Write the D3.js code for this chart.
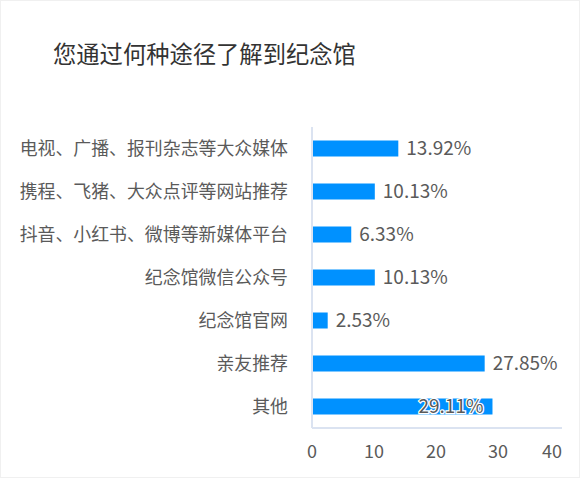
<!DOCTYPE html>
<html>
<head>
<meta charset="utf-8">
<script src="https://cdn.jsdelivr.net/npm/d3@7"></script>
<style>
  html, body { margin: 0; padding: 0; background: #fff; }
  svg { display: block; font-family: "Noto Sans CJK SC", "Microsoft YaHei", sans-serif; }
</style>
</head>
<body>
<div id="chart"></div>
<script>
var title = "您通过何种途径了解到纪念馆";

var categories = [
    "电视、广播、报刊杂志等大众媒体",
    "携程、飞猪、大众点评等网站推荐",
    "抖音、小红书、微博等新媒体平台",
    "纪念馆微信公众号",
    "纪念馆官网",
    "亲友推荐",
    "其他"
];

var percents = [13.92, 10.13, 6.33, 10.13, 2.53, 27.85, 29.11];

var xTicks = [0, 10, 20, 30, 40];

var width = 580,
    height = 479;

var svg = d3.select("#chart")
    .append("svg")
    .attr("width", width)
    .attr("height", height);

// faint frame round the card
svg.append("rect")
    .attr("x", 0.5)
    .attr("y", 0.5)
    .attr("width", width - 1)
    .attr("height", height - 2)
    .attr("fill", "none")
    .attr("stroke", "#f0f0f0");

svg.append("text")
    .attr("x", 53)
    .attr("y", 63)
    .attr("fill", "#333")
    .style("font-size", "23.3px")
    .text(title);

var x = d3.scaleLinear()
    .domain([0, 40])
    .range([312, 560]);

var y = d3.scaleBand()
    .domain(categories)
    .range([127, 428]);

var barH = 16;
var axisColor = "#dbe3f1";
var textColor = "#5a5a5a";

// category labels
svg.selectAll("text.cat")
    .data(categories)
    .enter()
    .append("text")
    .attr("class", "cat")
    .attr("x", 288)
    .attr("y", function (d) { return y(d) + y.bandwidth() / 2; })
    .attr("dy", "0.36em")
    .attr("text-anchor", "end")
    .attr("fill", textColor)
    .style("font-size", "17.9px")
    .text(function (d) { return d; });

// bars
svg.selectAll("rect.bar")
    .data(percents)
    .enter()
    .append("rect")
    .attr("class", "bar")
    .attr("x", x(0))
    .attr("y", function (d, i) { return y(categories[i]) + (y.bandwidth() - barH) / 2; })
    .attr("width", function (d) { return x(d) - x(0); })
    .attr("height", barH)
    .attr("fill", "#0091ff");

// axis lines
svg.append("line")
    .attr("x1", x(0)).attr("x2", x(0))
    .attr("y1", 127).attr("y2", 428)
    .attr("stroke", axisColor)
    .attr("stroke-width", 2);

svg.append("line")
    .attr("x1", x(0)).attr("x2", 562)
    .attr("y1", 428).attr("y2", 428)
    .attr("stroke", axisColor)
    .attr("stroke-width", 2);

// tick labels
svg.selectAll("text.tick")
    .data(xTicks)
    .enter()
    .append("text")
    .attr("class", "tick")
    .attr("x", function (d, i) { return i === xTicks.length - 1 ? 562 : x(d); })
    .attr("y", 452)
    .attr("dy", "0.36em")
    .attr("text-anchor", function (d, i) { return i === xTicks.length - 1 ? "end" : "middle"; })
    .attr("fill", textColor)
    .style("font-size", "18px")
    .text(function (d) { return d; });

// value labels; one that would run past the axis end is pulled back into its bar
var limit = 564,
    labelW = 68;
function inside(d) { return x(d) + 8 + labelW > limit; }

svg.selectAll("text.val")
    .data(percents)
    .enter()
    .append("text")
    .attr("class", "val")
    .attr("x", function (d) { return inside(d) ? x(d) - 9 : x(d) + 8; })
    .attr("y", function (d, i) { return y(categories[i]) + y.bandwidth() / 2; })
    .attr("dy", "0.36em")
    .attr("text-anchor", function (d) { return inside(d) ? "end" : "start"; })
    .attr("fill", textColor)
    .attr("stroke", function (d) { return inside(d) ? "#fff" : "none"; })
    .attr("stroke-width", 2.5)
    .attr("paint-order", "stroke")
    .style("font-size", "19px")
    .text(function (d) { return d.toFixed(2) + "%"; });
</script>
</body>
</html>
